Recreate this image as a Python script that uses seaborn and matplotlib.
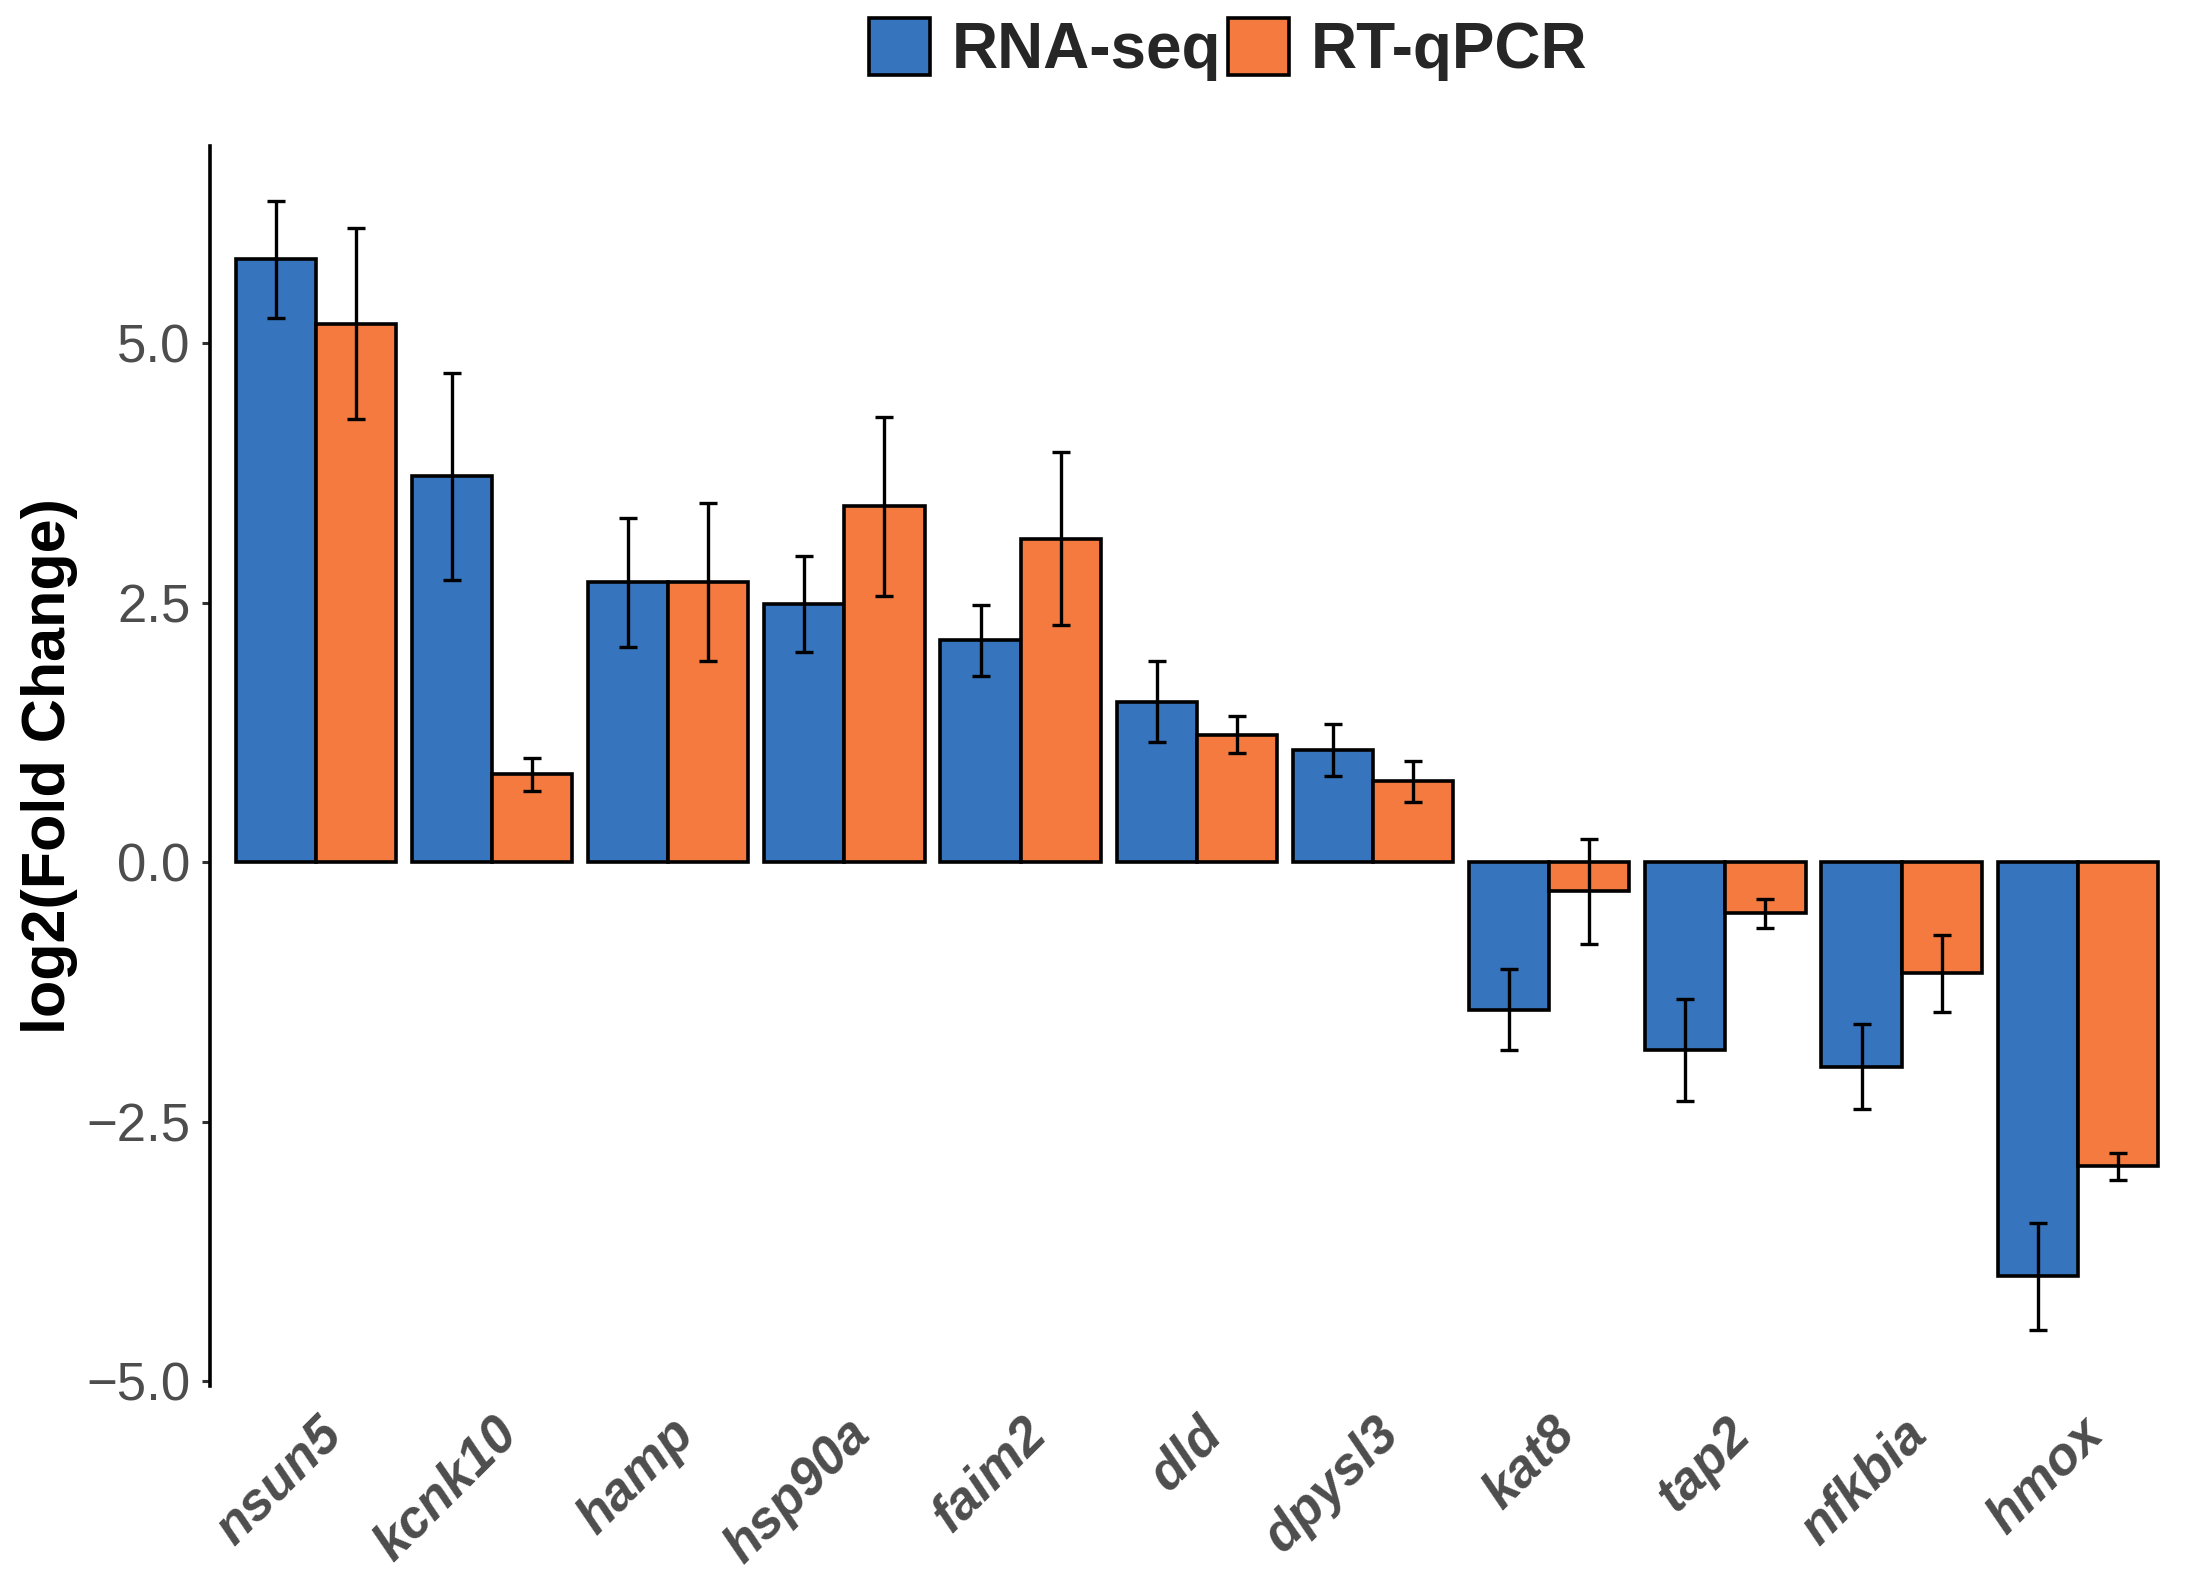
import numpy as np
import pandas as pd
import matplotlib
matplotlib.use('Agg')
import matplotlib.pyplot as plt
from matplotlib.patches import Patch
import seaborn as sns

sns.set_theme(style='white')
plt.rcParams['font.family'] = ['Liberation Sans', 'DejaVu Sans']

# values
genes = ['nsun5', 'kcnk10', 'hamp', 'hsp90a', 'faim2', 'dld', 'dpysl3',
         'kat8', 'tap2', 'nfkbia', 'hmox']
methods = ['RNA-seq', 'RT-qPCR']
rna_seq = [5.81, 3.72, 2.70, 2.49, 2.14, 1.55, 1.08, -1.42, -1.81, -1.97, -3.99]
rna_seq_err = [0.56, 1.00, 0.62, 0.46, 0.34, 0.39, 0.25, 0.39, 0.49, 0.41, 0.52]
rt_qpcr = [5.19, 0.85, 2.70, 3.43, 3.12, 1.23, 0.78, -0.28, -0.49, -1.07, -2.93]
rt_qpcr_err = [0.92, 0.16, 0.76, 0.86, 0.83, 0.18, 0.20, 0.51, 0.14, 0.37, 0.13]
palette = {'RNA-seq': '#3674BE', 'RT-qPCR': '#F47A40'}

df = pd.DataFrame({
    'gene': genes * 2,
    'method': ['RNA-seq'] * len(genes) + ['RT-qPCR'] * len(genes),
    'value': rna_seq + rt_qpcr,
    'err': rna_seq_err + rt_qpcr_err,
})

fig = plt.figure(figsize=(11, 7.95), dpi=200)
ax = fig.add_axes([0.0955, 0.128, 0.897, 0.78])

sns.barplot(data=df, x='gene', y='value', hue='method', order=genes,
            hue_order=methods, palette=palette, width=0.91, gap=0,
            edgecolor='black', linewidth=1.3, errorbar=None, legend=False,
            saturation=1, ax=ax)

# error bars on the bar centres (patches come hue by hue, in gene order)
bars = list(ax.patches)[:len(df)]
xs = [p.get_x() + p.get_width() / 2 for p in bars]
ax.errorbar(xs, df['value'].values, yerr=df['err'].values, fmt='none', ecolor='black',
            elinewidth=1.2, capsize=3.2, capthick=1.2, zorder=5)

ax.set_xlim(-0.6, len(genes) - 0.4)
ax.set_ylim(-5.05, 6.9)
ax.set_yticks([-5, -2.5, 0, 2.5, 5])
ax.set_yticklabels(['\u22125.0', '\u22122.5', '0.0', '2.5', '5.0'])
ax.set_xlabel('')
ax.set_ylabel('log2(Fold Change)', fontsize=22, fontweight='bold', color='black', labelpad=3)

sns.despine(ax=ax, top=True, right=True, bottom=True)
ax.spines['left'].set_color('black')
ax.spines['left'].set_linewidth(1.3)
ax.tick_params(axis='y', which='both', left=True, length=3, width=1.1, color='#333333',
               labelsize=19, labelcolor='#4D4D4D', pad=4)
ax.tick_params(axis='x', bottom=False, labelsize=19, labelcolor='#4D4D4D', pad=2)
for lab in ax.get_xticklabels():
    lab.set_rotation(45)
    lab.set_ha('right')
    lab.set_rotation_mode('anchor')
    lab.set_fontweight('bold')
    lab.set_fontstyle('italic')

handles = [Patch(facecolor=palette[m], edgecolor='black', linewidth=1.3, label=m) for m in methods]
ax.legend(handles=handles, loc='center', bbox_to_anchor=(0.516, 1.078), ncol=2,
          frameon=False, prop={'weight': 'bold', 'size': 23}, handlelength=0.95,
          handleheight=1.0, columnspacing=0.1, handletextpad=0.35, borderaxespad=0)

fig.savefig('out.png', dpi=200, facecolor='white')
